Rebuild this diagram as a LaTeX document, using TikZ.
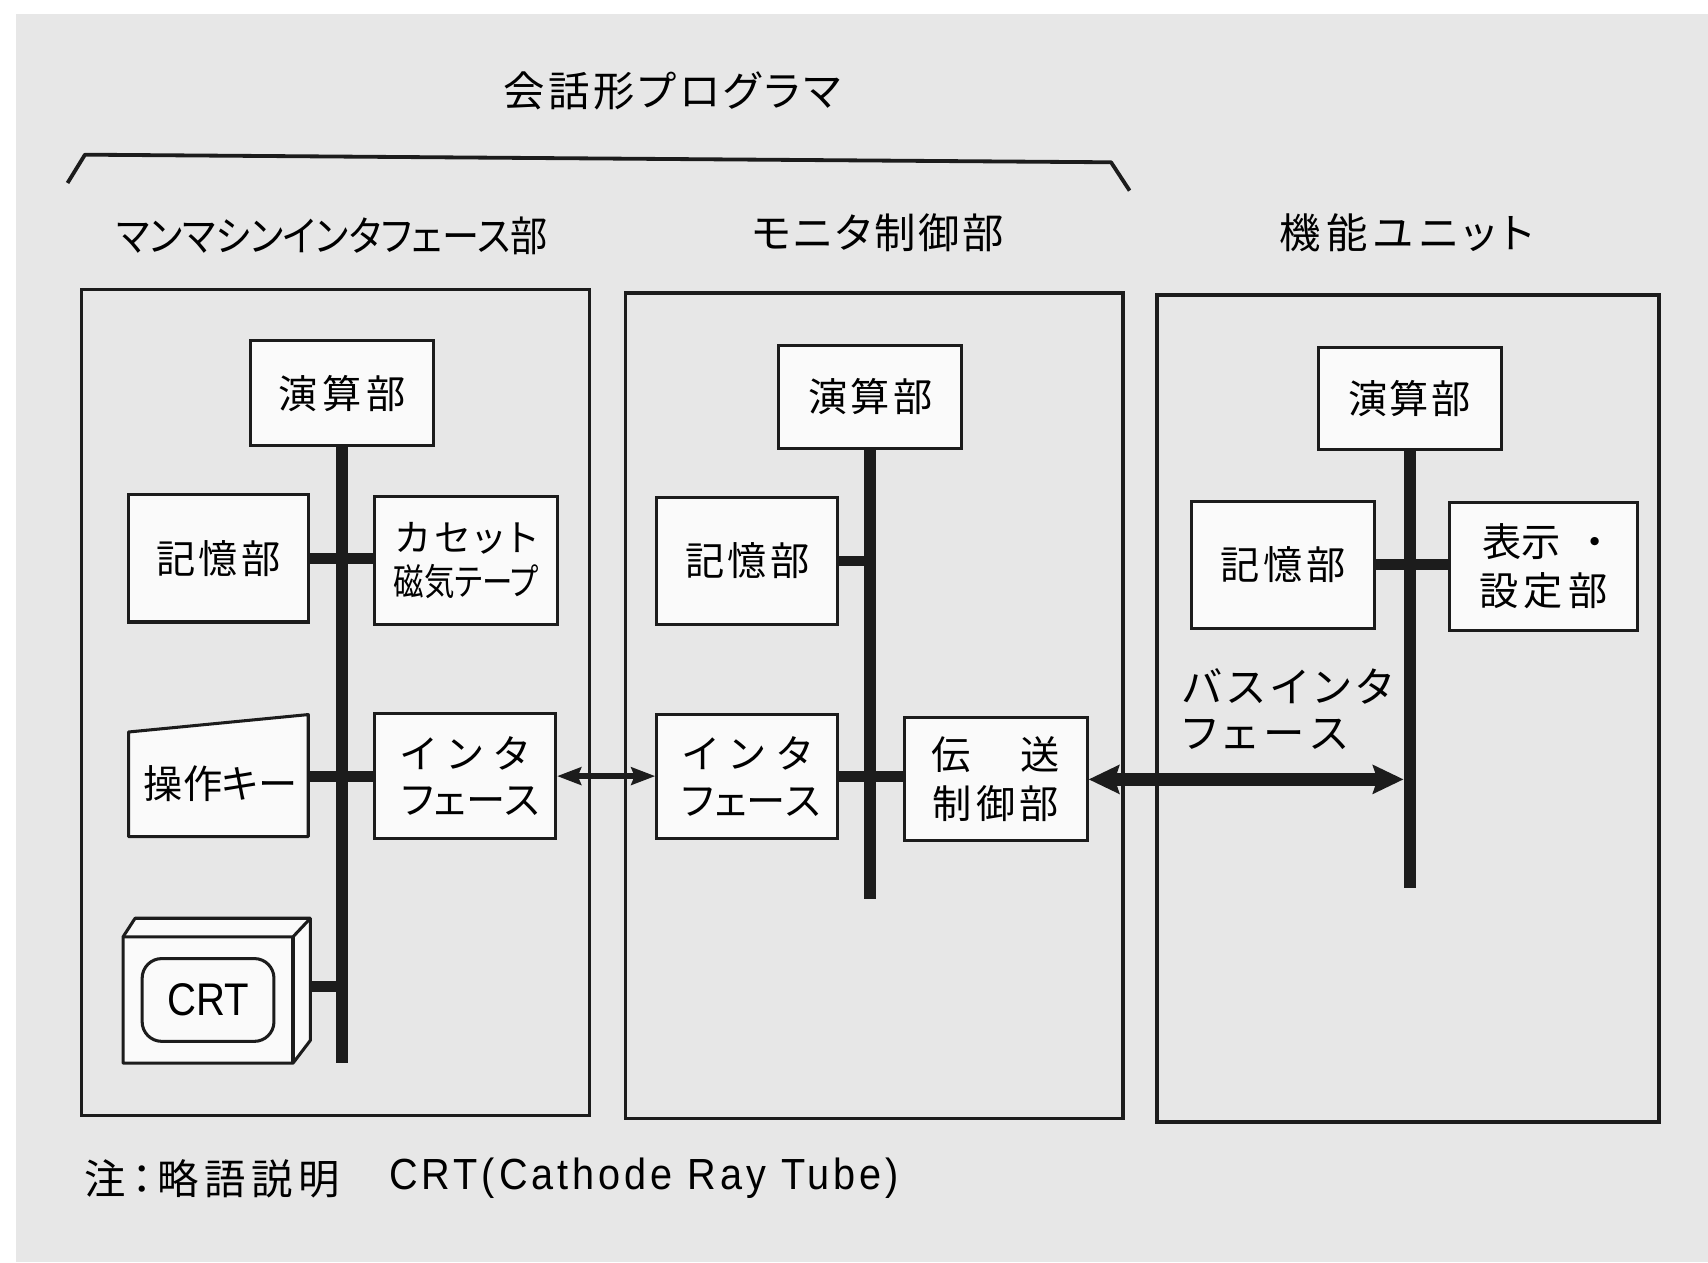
\documentclass[tikz,border=0pt]{standalone}
\usepackage{fontspec}
\usepackage{graphicx}
\newfontfamily\jp[RawFeature=+palt]{Noto Sans CJK JP}
\newfontfamily\lat{Liberation Sans}
\newfontfamily\latsp[LetterSpace=10]{Liberation Sans}
\usetikzlibrary{arrows.meta,calc}
\ExplSyntaxOn
\NewDocumentCommand\spr{mm}{
  \seq_clear:N \l_tmpa_seq
  \tl_map_inline:nn {#2} { \seq_put_right:Nn \l_tmpa_seq {##1} }
  \makebox[#1][s]{ \seq_use:Nn \l_tmpa_seq {\hfill} }
}
\ExplSyntaxOff
\newcommand\fitw[2]{\resizebox{#1}{\height}{#2}}
\definecolor{ink}{HTML}{1C1C1C}
\definecolor{bgray}{HTML}{E7E7E7}
\definecolor{boxw}{HTML}{FAFAFA}
\tikzset{
  blk/.style={draw=ink, fill=boxw, line width=1.4pt, inner sep=0pt, align=center,
    font=\jp\fontsize{18pt}{21.5pt}\selectfont},
  panel/.style={draw=ink, line width=1.6pt, inner sep=0pt},
  bus/.style={draw=ink, line width=5.5pt},
  branch/.style={draw=ink, line width=5pt},
  lbl/.style={inner sep=0pt, font=\jp\fontsize{19pt}{21pt}\selectfont},
  thinarr/.style={draw=ink, line width=2.5pt,
    {Stealth[length=11pt,width=8pt,inset=1.5pt]}-{Stealth[length=11pt,width=8pt,inset=1.5pt]}},
  bigarr/.style={draw=ink, line width=6pt,
    {Stealth[length=14pt,width=13pt,inset=2pt]}-{Stealth[length=14pt,width=13pt,inset=2pt]}},
}
\begin{document}
\begin{tikzpicture}[x=0.5pt,y=-0.5pt]
\useasboundingbox (0,0) rectangle (1568,1159);
\fill[white] (0,0) rectangle (1568,1159);
\fill[bgray] (15,13) rectangle (1568,1159);

% title and bracket
\node[lbl] (title) at (617,83) {\spr{155pt}{会話形プログラマ}};
\draw[ink, line width=1.75pt, line join=round] (62,168) -- (78,142) -- (1020,149) -- (1037,175);

% headings
\node[lbl] (h1) at (305,217) {\fitw{198pt}{マンマシンインタフェース部}};
\node[lbl] (h2) at (806,214) {\spr{116pt}{モニタ制御部}};
\node[lbl] (h3) at (1291,214) {\spr{116.5pt}{機能ユニット}};

% panels
\node[panel, minimum width=233pt, minimum height=379pt] (P1) at (308,645) {};
\node[panel, minimum width=228.5pt, minimum height=379pt] (P2) at (802.5,648) {};
\node[panel, minimum width=230.5pt, minimum height=379.5pt] (P3) at (1292.5,650.5) {};

% ---------- left panel ----------
\node[blk, minimum width=84pt, minimum height=48pt] (A1) at (314,361) {\spr{58.5pt}{演算部}};
\node[blk, minimum width=82.5pt, minimum height=58.5pt] (M1) at (200.5,512.5) {\spr{57pt}{記憶部}};
\node[blk, minimum width=84pt, minimum height=58.5pt, font=\jp\fontsize{17pt}{20pt}\selectfont] (C1) at (428,514.5)
  {\spr{65pt}{カセット}\\\fitw{66.5pt}{磁気テープ}};
\node[blk, minimum width=83pt, minimum height=57.5pt] (I1) at (427,712.5)
  {\spr{58.5pt}{インタ}\\\spr{58.5pt}{フェース}};
% keyboard (trapezoid)
\draw[ink, fill=boxw, line width=1.4pt, line join=round] (118,672) -- (283,656) -- (283,768) -- (118,768) -- cycle;
\node[inner sep=0pt, minimum width=82.5pt, font=\jp\fontsize{18pt}{21.5pt}\selectfont] (K1) at (200.5,719) {\spr{68.5pt}{操作キー}};
% CRT
\draw[ink, fill=boxw, line width=1.4pt, line join=round]
  (113,860) -- (124,843) -- (285,843) -- (285,955) -- (269,976) -- (113,976) -- cycle;
\draw[ink, line width=1.4pt, line join=round] (113,860) -- (269,860) -- (285,843);
\draw[ink, line width=1.4pt] (269,860) -- (269,976);
\node[inner sep=0pt, minimum width=78pt, minimum height=58pt] (CRT) at (191,918) {};
\node[draw=ink, line width=1.4pt, rounded corners=9pt, minimum width=60.5pt, minimum height=38pt, inner sep=0pt]
  (scr) at (CRT) {\lat\fontsize{21pt}{21pt}\selectfont\fitw{37.5pt}{CRT}};
\coordinate (crtc) at (285,906);
\coordinate (b1end) at (314,976);
% bus and branches
\draw[bus] (A1.south) -- (b1end);
\draw[branch] (M1.east) -- (M1.east -| C1.west);
\draw[branch] (I1.west -| K1.east) -- (I1.west);
\draw[branch] (crtc) -- (crtc -| b1end);

% ---------- middle panel ----------
\node[blk, minimum width=84pt, minimum height=47.5pt] (A2) at (799,364.5) {\spr{57pt}{演算部}};
\node[blk, minimum width=83pt, minimum height=58pt] (M2) at (686,515) {\spr{57pt}{記憶部}};
\node[blk, minimum width=83pt, minimum height=57pt] (I2) at (686,713)
  {\spr{59pt}{インタ}\\\spr{60pt}{フェース}};
\node[blk, minimum width=84pt, minimum height=56.5pt, font=\jp\fontsize{18pt}{22.5pt}\selectfont] (T2) at (914,715.5)
  {\spr{59pt}{伝送}\\\spr{57.5pt}{制御部}};
\coordinate (b2end) at (799,825);
\draw[bus] (A2.south) -- (b2end);
\draw[branch] (M2.east) -- (M2.east -| b2end);
\draw[branch] (I2.east) -- (I2.east -| T2.west);

% ---------- right panel ----------
\node[blk, minimum width=84pt, minimum height=47pt] (A3) at (1294,366) {\spr{56.5pt}{演算部}};
\node[blk, minimum width=84pt, minimum height=58.5pt] (M3) at (1178,518.5) {\spr{57.5pt}{記憶部}};
\node[blk, minimum width=86pt, minimum height=59pt, font=\jp\fontsize{18pt}{22.5pt}\selectfont] (D3) at (1417,520)
  {\makebox[56pt][s]{表示\hfill ・}\\\spr{58.5pt}{設定部}};
\coordinate (b3end) at (1294,815);
\draw[bus] (A3.south) -- (b3end);
\draw[branch] (M3.east) -- (M3.east -| D3.west);
\node[lbl, anchor=west, align=left] (busif) at (1085,651)
  {\spr{96.5pt}{バスインタ}\\\spr{76pt}{フェース}};

% ---------- arrows ----------
\draw[thinarr] (I1.east) -- (I1.east -| I2.west);
\draw[bigarr, shorten >=2.75pt] (T2.east) -- (T2.east -| b3end);

% ---------- note ----------
\node[lbl, anchor=west] (note1) at (77,1082) {\spr{117.5pt}{注：略語説明}};
\node[inner sep=0pt, anchor=west] (note2) at (357,1082)
  {\latsp\fontsize{20pt}{20pt}\selectfont\fitw{234pt}{CRT(Cathode Ray Tube)}};
\end{tikzpicture}
\end{document}
